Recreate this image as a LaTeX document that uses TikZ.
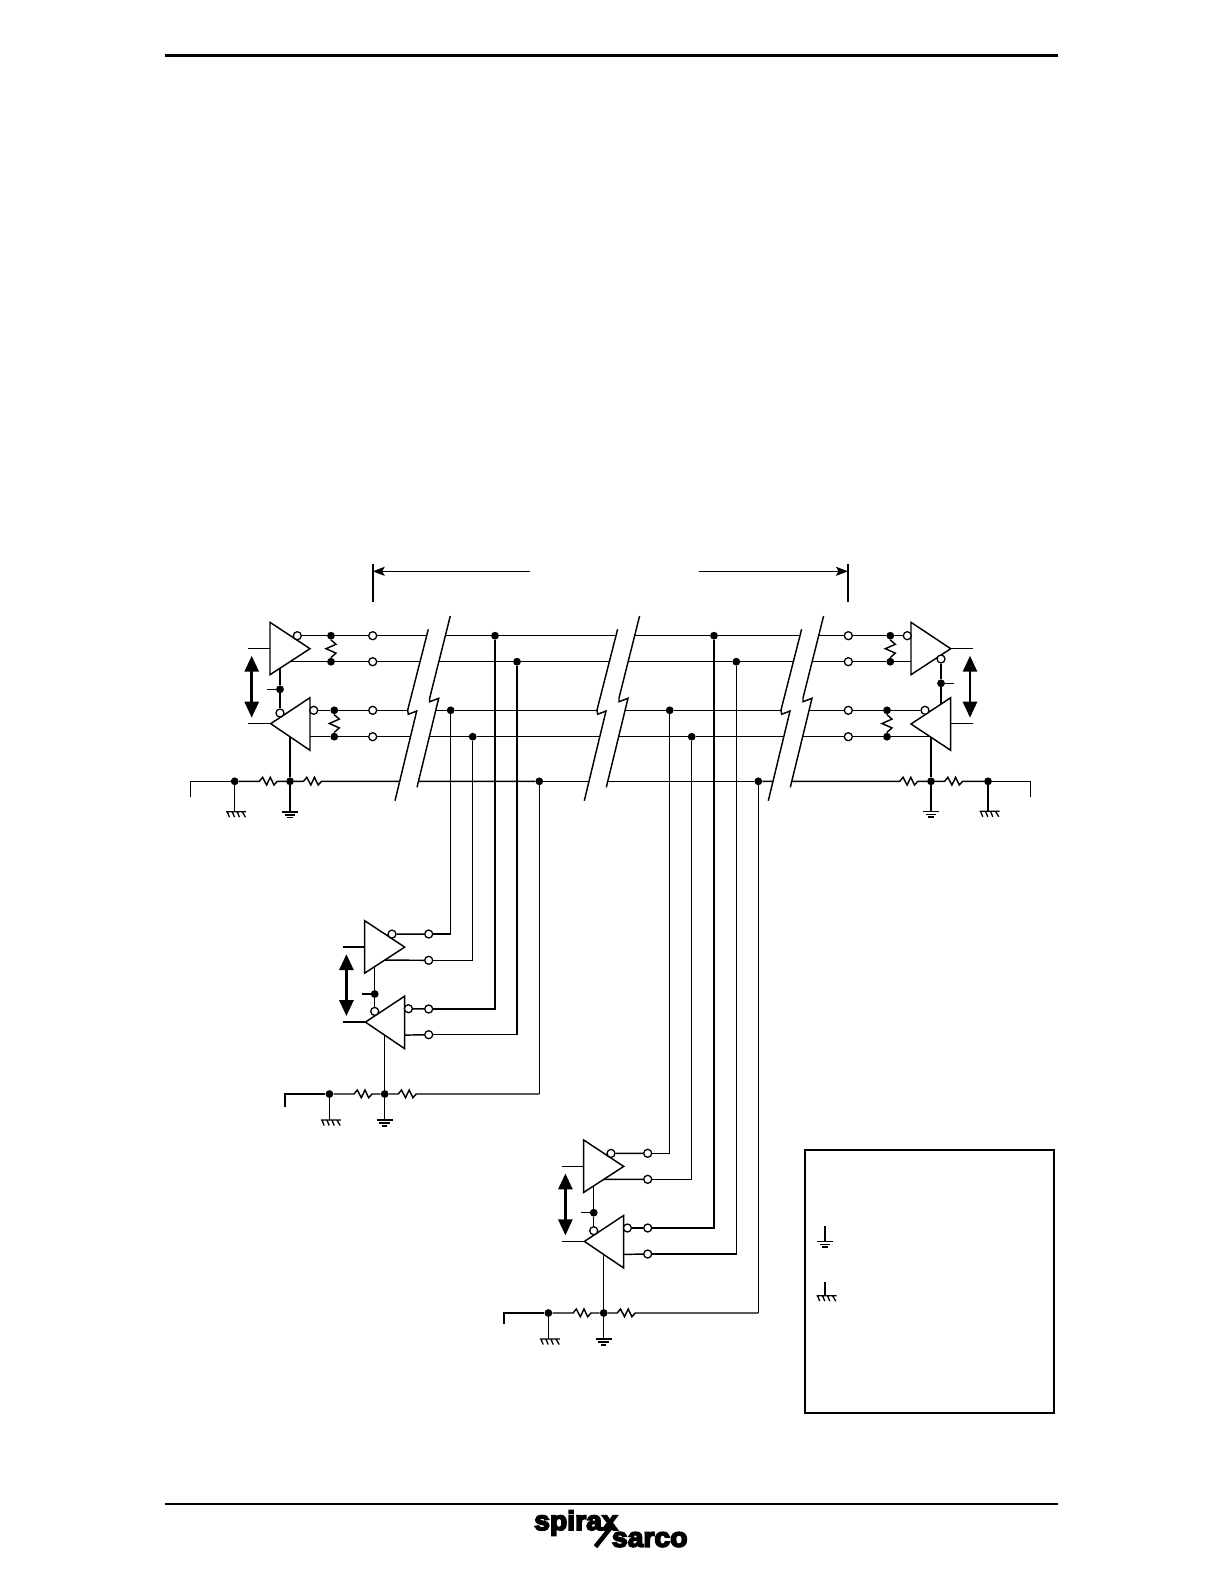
\documentclass[tikz,border=0pt]{standalone}
\usepackage{fontspec}
\usetikzlibrary{arrows.meta,calc}
\newfontfamily\logofont[UprightFont={* Bold},FakeBold=6,FakeStretch=1.05]{Liberation Sans}
\tikzset{
  wire/.style={line width=1.45pt,line join=miter},
  rule/.style={line width=2.8pt},
  tribox/.style={line width=1.45pt,line join=miter},
  dot/.style={circle,fill=black,draw=none,inner sep=0pt,minimum size=7.8pt},
  opencirc/.style={circle,fill=white,draw=black,line width=1.3pt,inner sep=0pt,minimum size=8pt},
  dirarrow/.style={line width=2.8pt,{Triangle[length=16pt,width=14pt]}-{Triangle[length=16pt,width=14pt]}},
  dimarrow/.style={line width=1.3pt,-{Stealth[length=12pt,width=9pt,inset=2.5pt]}},
  dimtick/.style={line width=1.9pt},
  legendbox/.style={draw,line width=2.2pt,fill=white,inner sep=0pt,minimum width=248.7pt,minimum height=262.7pt},
  logotext/.style={inner sep=0pt,anchor=base west,font=\logofont\fontsize{27}{27}\selectfont}
}
% horizontal resistor: from #1, zigzag centred on #2, on to #3
\newcommand\hres[3]{\draw[wire] (#1) -- ($(#2)+(-9,0)$) -- ++(3.3,-4) -- ++(4,7.7) -- ++(3.7,-7.7) -- ++(3.7,7.7) -- ++(3.3,-3.7) -- (#3);}
% vertical resistor between two junctions
\newcommand\vres[2]{\draw[wire] (#1) -- ($(#1)!.5!(#2)+(0,-8.8)$) -- ++(5,4.4) -- ++(-10,4.4) -- ++(10,4.4) -- ++(-5,4.4) -- (#2);}
\newcommand\gndsym[1]{\draw[line width=1.6pt] ($(#1)+(-8,0)$) -- ++(16,0) ($(#1)+(-5.3,3)$) -- ++(10.6,0) ($(#1)+(-2.7,5.7)$) -- ++(5.4,0);}
\newcommand\chsym[1]{\draw[line width=1.3pt] ($(#1)+(-8.5,0)$) -- ++(20,0)
  ($(#1)+(-7.5,0)$) -- ++(2.3,5.5) ($(#1)+(-2.5,0)$) -- ++(2.3,5.5) ($(#1)+(2.5,0)$) -- ++(2.3,5.5) ($(#1)+(7.5,0)$) -- ++(3.3,5.5);}
\newcommand\breakband[1]{\begin{scope}[shift={(#1,0)}]
  \fill[white] (428.3,629.3) -- (407.7,710) -- (408.3,714.3) -- (416.7,711) -- (395,800.7) -- (417,787.3) -- (438.7,698.3) -- (429.7,701.7) -- (429.7,698) -- (450.3,616) -- cycle;
  \draw[wire] (428.3,629.3) -- (407.7,710) -- (408.3,714.3) -- (416.7,711) -- (395,800.7);
  \draw[wire] (450.3,616) -- (429.7,698) -- (429.7,701.7) -- (438.7,698.3) -- (417,787.3);
\end{scope}}
% transceiver: prefix, dx, dy, enable y (frame of the left unit), common-line y, ground length, end stub
\newcommand\xcvrunit[7]{%
\begin{scope}[shift={(#2,#3)}]
  \draw[tribox] (270,622.3) -- (270,674.7) -- (310,648.7) -- cycle;
  \draw[tribox] (310,697.7) -- (310,750.3) -- (270.7,723.7) -- cycle;
  \node[opencirc] (#1od) at (297.3,635.7) {};
  \node[opencirc] (#1or) at (313.7,710.3) {};
  \node[opencirc] (#1oe) at (280,713) {};
  \node[dot] (#1je) at (280,#4) {};
  \coordinate (#1dlo) at (290,661.7);
  \coordinate (#1rlo) at (310,736.7);
  \coordinate (#1ds) at (280,668.2);
  \coordinate (#1stub) at (267,#4);
  \coordinate (#1rb) at (290,736.8);
  \coordinate (#1inA) at (248,648.7);
  \coordinate (#1inAe) at (270,648.7);
  \coordinate (#1inB) at (248,723.7);
  \coordinate (#1inBe) at (270.7,723.7);
  \coordinate (#1au) at (251.7,655.7);
  \coordinate (#1ad) at (251.7,717.7);
  \draw[wire] (#1ds) -- (#1je) -- (#1oe);
  \draw[wire] (#1stub) -- (#1je);
  \draw[wire] (#1inA) -- (#1inAe);
  \draw[wire] (#1inB) -- (#1inBe);
  \draw[dirarrow] (#1au) -- (#1ad);
\end{scope}
\begin{scope}[shift={(#2,#5)}]
  \node[dot] (#1jc) at (234.7,0) {};
  \node[dot] (#1jg) at (290,0) {};
  \coordinate (#1end) at (190.3,#7);
  \coordinate (#1c) at (190.3,0);
  \coordinate (#1r1) at (268.3,0);
  \coordinate (#1r2) at (312.5,0);
  \coordinate (#1gnd) at (290,#6);
  \coordinate (#1chs) at (234.7,#6);
  \draw[wire] (#1end) -- (#1c) -- (#1jc);
  \draw[wire] (#1jc) -- (#1chs);
  \draw[wire] (#1jg) -- (#1gnd);
  \draw[wire] (#1rb) -- (#1jg);
  \hres{#1jc}{#1r1}{#1jg}
  \gndsym{#1gnd}
  \chsym{#1chs}
\end{scope}}
\begin{document}
\begin{tikzpicture}[x=1pt,y=-1pt]
\useasboundingbox (0,0) rectangle (1225,1585);
\fill[white] (0,0) rectangle (1225,1585);

% page rules
\coordinate (ruleTL) at (165,55.3);
\coordinate (ruleTR) at (1058,55.3);
\coordinate (ruleBL) at (165,1504);
\coordinate (ruleBR) at (1058,1504);
\draw[rule] (ruleTL) -- (ruleTR);
\draw[rule] (ruleBL) -- (ruleBR);

% dimension
\coordinate (dimLt) at (372.7,564);
\coordinate (dimLb) at (372.7,601.7);
\coordinate (dimRt) at (848,564);
\coordinate (dimRb) at (848,601.7);
\coordinate (dimL) at (372.7,571.3);
\coordinate (dimR) at (848,571.3);
\coordinate (dimLe) at (530,571.3);
\coordinate (dimRe) at (699,571.3);
\draw[dimtick] (dimLt) -- (dimLb);
\draw[dimtick] (dimRt) -- (dimRb);
\draw[dimarrow] (dimLe) -- (dimL);
\draw[dimarrow] (dimRe) -- (dimR);

% transceivers
\xcvrunit{L}{0}{0}{689.3}{781.3}{30.4}{16}
\xcvrunit{M}{94.7}{298.4}{695.6}{1094}{26}{13}
\xcvrunit{W}{313.7}{517.7}{695}{1313}{26}{11}

% terminals: left unit
\foreach \n/\y in {1/635.7,2/661.7,3/710.3,4/736.7}{
  \node[opencirc] (Lt\n) at (372.7,\y) {};
  \node[opencirc] (Rt\n) at (848.3,\y) {};
}
\node[dot] (Lj1) at (331,635.7) {};
\node[dot] (Lj2) at (331,661.7) {};
\node[dot] (Lj3) at (334.3,710.3) {};
\node[dot] (Lj4) at (334.3,736.7) {};
\vres{Lj1}{Lj2}
\vres{Lj3}{Lj4}

% terminals: middle and lower units
\foreach \n/\y in {1/934,2/960.3,3/1009,4/1034.7}{\node[opencirc] (Mt\n) at (428.7,\y) {};}
\foreach \n/\y in {1/1153.3,2/1179.3,3/1228,4/1254}{\node[opencirc] (Wt\n) at (647.7,\y) {};}

% bus junctions
\node[dot] (jA3) at (450.7,710.3) {};
\node[dot] (jA4) at (472.7,736.7) {};
\node[dot] (jA1) at (495,635.7) {};
\node[dot] (jA2) at (517,661.7) {};
\node[dot] (jA5) at (539.3,781.3) {};
\node[dot] (jB3) at (669.7,710.3) {};
\node[dot] (jB4) at (691.7,736.7) {};
\node[dot] (jB1) at (714,635.7) {};
\node[dot] (jB2) at (736.3,661.7) {};
\node[dot] (jB5) at (758.3,781.3) {};

% right transceiver
\draw[tribox] (911,622.3) -- (911,674.7) -- (950.7,648.7) -- cycle;
\draw[tribox] (950.7,697.7) -- (950.7,750.3) -- (911,724) -- cycle;
\node[opencirc] (Rod) at (907.3,635.7) {};
\node[opencirc] (Ror) at (925,710.3) {};
\node[opencirc] (Roe) at (941,659) {};
\node[dot] (Rje) at (941,683.3) {};
\coordinate (Rstub) at (954,683.3);
\coordinate (Rre) at (941,703.8);
\coordinate (Rdlo) at (911,661.7);
\coordinate (Rrlo) at (931,736.7);
\coordinate (RoutA) at (972.7,648.7);
\coordinate (RoutAe) at (950.7,648.7);
\coordinate (RoutB) at (972.7,723.7);
\coordinate (RoutBe) at (950.7,723.7);
\coordinate (Rau) at (970,655.7);
\coordinate (Rad) at (970,717.7);
\draw[wire] (Roe) -- (Rje) -- (Rre);
\draw[wire] (Rje) -- (Rstub);
\draw[wire] (RoutAe) -- (RoutA);
\draw[wire] (RoutBe) -- (RoutB);
\draw[dirarrow] (Rau) -- (Rad);
\node[dot] (Rj1) at (890.3,635.7) {};
\node[dot] (Rj2) at (890.3,661.7) {};
\node[dot] (Rj3) at (887,710.3) {};
\node[dot] (Rj4) at (887,736.7) {};
\vres{Rj1}{Rj2}
\vres{Rj3}{Rj4}
\node[dot] (Rjg) at (931,781.3) {};
\node[dot] (Rjc) at (988,781.3) {};
\coordinate (Rr1) at (908.8,781.3);
\coordinate (Rr2) at (953.6,781.3);
\coordinate (Rc) at (1030.7,781.3);
\coordinate (Rend) at (1030.7,797.3);
\coordinate (Rgnd) at (931,811.3);
\coordinate (Rchs) at (988,811.3);
\draw[wire] (Rrlo) -- (Rjg) -- (Rgnd);
\draw[wire] (Rjc) -- (Rchs);
\draw[wire] (Rjc) -- (Rc) -- (Rend);
\hres{Rjg}{Rr2}{Rjc}
\gndsym{Rgnd}
\chsym{Rchs}

% buses
\draw[wire] (Lod) -- (Lj1) -- (Lt1) -- (jA1) -- (jB1) -- (Rt1) -- (Rj1) -- (Rod);
\draw[wire] (Ldlo) -- (Lj2) -- (Lt2) -- (jA2) -- (jB2) -- (Rt2) -- (Rj2) -- (Rdlo);
\draw[wire] (Lor) -- (Lj3) -- (Lt3) -- (jA3) -- (jB3) -- (Rt3) -- (Rj3) -- (Ror);
\draw[wire] (Lrlo) -- (Lj4) -- (Lt4) -- (jA4) -- (jB4) -- (Rt4) -- (Rj4) -- (Rrlo);
\hres{Ljg}{Lr2}{jA5}
\draw[wire] (jA5) -- (jB5);
\hres{jB5}{Rr1}{Rjg}

% cable breaks
\breakband{0}
\breakband{189.3}
\breakband{373.3}

% drops to the middle unit
\coordinate (Mc5) at (539.3,1094);
\draw[wire] (Mod) -- (Mt1);
\draw[wire] (Mdlo) -- (Mt2);
\draw[wire] (Mor) -- (Mt3);
\draw[wire] (Mrlo) -- (Mt4);
\draw[wire] (jA3) |- (Mt1);
\draw[wire] (jA4) |- (Mt2);
\draw[wire] (jA1) |- (Mt3);
\draw[wire] (jA2) |- (Mt4);
\hres{Mjg}{Mr2}{Mc5}
\draw[wire] (Mc5) -- (jA5);

% drops to the lower unit
\coordinate (Wc5) at (758.3,1313);
\draw[wire] (Wod) -- (Wt1);
\draw[wire] (Wdlo) -- (Wt2);
\draw[wire] (Wor) -- (Wt3);
\draw[wire] (Wrlo) -- (Wt4);
\draw[wire] (jB3) |- (Wt1);
\draw[wire] (jB4) |- (Wt2);
\draw[wire] (jB1) |- (Wt3);
\draw[wire] (jB2) |- (Wt4);
\hres{Wjg}{Wr2}{Wc5}
\draw[wire] (Wc5) -- (jB5);

% legend
\node[legendbox] (legend) at (929.65,1281.35) {};
\coordinate (legGa) at (825,1226);
\coordinate (legGb) at (825,1241.3);
\coordinate (legCa) at (825,1281.7);
\coordinate (legCb) at (825,1295.7);
\draw[wire] (legGa) -- (legGb);
\draw[wire] (legCa) -- (legCb);
\gndsym{legGb}
\chsym{legCb}

% logo
\node[logotext] (logoA) at (534,1530) {spirax};
\node[logotext] (logoB) at (611.7,1546.7) {sarco};
\coordinate (slashA) at (595.5,1546.7);
\coordinate (slashB) at (612,1526);
\draw[line width=4.5pt] (slashA) -- (slashB);
\end{tikzpicture}
\end{document}
